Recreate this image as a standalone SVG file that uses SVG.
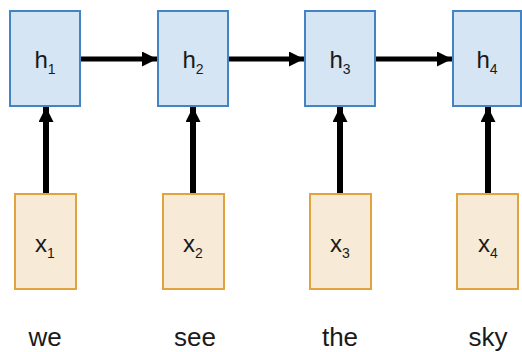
<svg xmlns="http://www.w3.org/2000/svg" width="522" height="352" viewBox="0 0 522 352">
  <style>
    .h { fill: #d6e5f3; stroke: #4584c4; stroke-width: 2; }
    .x { fill: #f7ead6; stroke: #e0a33e; stroke-width: 2; }
    .lbl { font-family: "Liberation Sans", Arial, sans-serif; font-size: 24px; fill: #1a1a1a; text-anchor: middle; }
    .sub { font-size: 14px; }
    .word { font-family: "Liberation Sans", Arial, sans-serif; font-size: 26px; fill: #1a1a1a; text-anchor: middle; }
    .edge { stroke: #000; stroke-width: 5; fill: none; }
    .vedge { stroke: #000; stroke-width: 6; fill: none; }
  </style>
  <defs>
    <marker id="arrow" viewBox="0 0 10 10" refX="10" refY="5" markerUnits="userSpaceOnUse" markerWidth="15" markerHeight="15" orient="auto">
      <path d="M0,0 L10,5 L0,10 Z" fill="#000"/>
    </marker>
  </defs>

  <g id="connectors">
    <line class="edge" x1="81" y1="59" x2="157" y2="59" marker-end="url(#arrow)"/>
    <line class="edge" x1="229" y1="59" x2="304" y2="59" marker-end="url(#arrow)"/>
    <line class="edge" x1="376" y1="59" x2="452" y2="59" marker-end="url(#arrow)"/>
    <line class="vedge" x1="46" y1="193" x2="46" y2="107" marker-end="url(#arrow)"/>
    <line class="vedge" x1="193" y1="193" x2="193" y2="107" marker-end="url(#arrow)"/>
    <line class="vedge" x1="340" y1="193" x2="340" y2="107" marker-end="url(#arrow)"/>
    <line class="vedge" x1="488" y1="193" x2="488" y2="107" marker-end="url(#arrow)"/>
  </g>

  <g id="h1">
    <rect class="h" x="10" y="11" width="70" height="95"/>
    <text class="lbl" x="45" y="68">h<tspan class="sub" dy="6">1</tspan></text>
  </g>
  <g id="h2">
    <rect class="h" x="158" y="11" width="70" height="95"/>
    <text class="lbl" x="193" y="68">h<tspan class="sub" dy="6">2</tspan></text>
  </g>
  <g id="h3">
    <rect class="h" x="305" y="11" width="70" height="95"/>
    <text class="lbl" x="340" y="68">h<tspan class="sub" dy="6">3</tspan></text>
  </g>
  <g id="h4">
    <rect class="h" x="453" y="11" width="68" height="95"/>
    <text class="lbl" x="487" y="68">h<tspan class="sub" dy="6">4</tspan></text>
  </g>

  <g id="x1">
    <rect class="x" x="15" y="194" width="61" height="95"/>
    <text class="lbl" x="45" y="252">x<tspan class="sub" dy="6">1</tspan></text>
  </g>
  <g id="x2">
    <rect class="x" x="163" y="194" width="61" height="95"/>
    <text class="lbl" x="193" y="252">x<tspan class="sub" dy="6">2</tspan></text>
  </g>
  <g id="x3">
    <rect class="x" x="310" y="194" width="61" height="95"/>
    <text class="lbl" x="340" y="252">x<tspan class="sub" dy="6">3</tspan></text>
  </g>
  <g id="x4">
    <rect class="x" x="457" y="194" width="61" height="95"/>
    <text class="lbl" x="488" y="252">x<tspan class="sub" dy="6">4</tspan></text>
  </g>

  <g id="words">
    <text class="word" x="45" y="346">we</text>
    <text class="word" x="195" y="346">see</text>
    <text class="word" x="340" y="346">the</text>
    <text class="word" x="488" y="346">sky</text>
  </g>
</svg>
